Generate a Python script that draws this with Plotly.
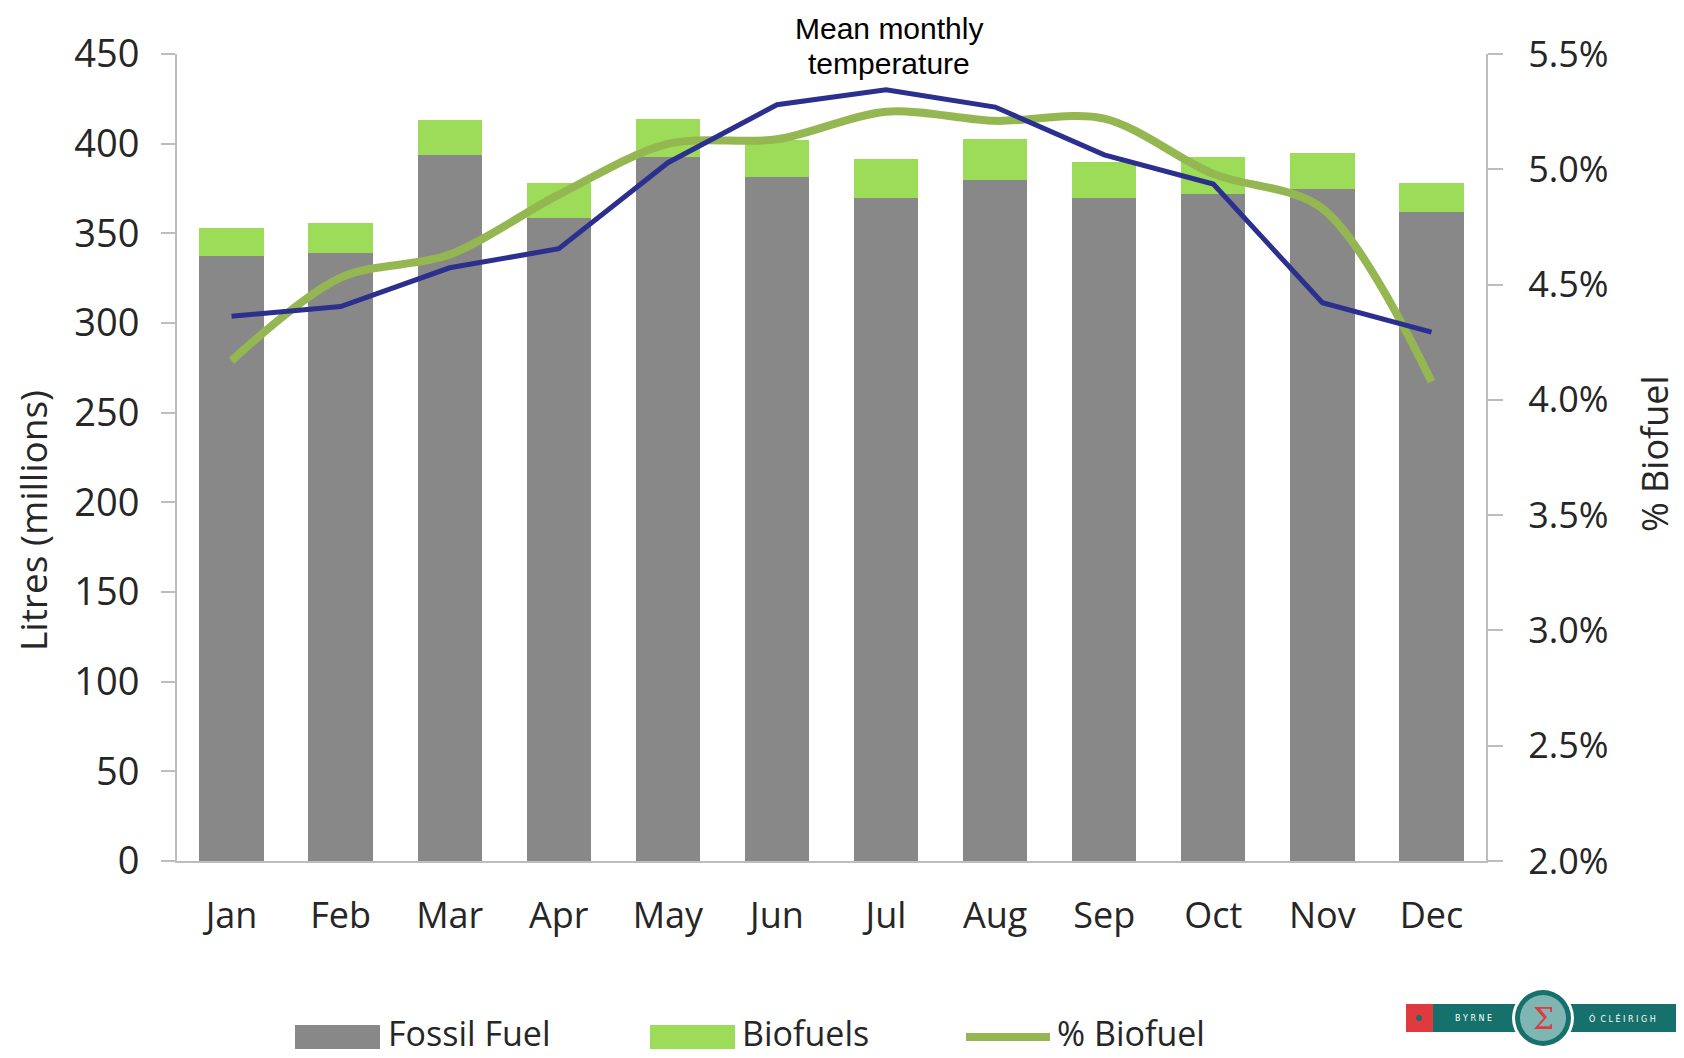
import plotly.graph_objects as go

months = ["Jan", "Feb", "Mar", "Apr", "May", "Jun", "Jul", "Aug", "Sep", "Oct", "Nov", "Dec"]
fossil_fuel = [337.6, 339.0, 393.5, 358.3, 392.5, 381.4, 369.6, 379.5, 369.6, 372.2, 374.9, 361.9]
biofuels = [15.2, 17.0, 19.8, 19.7, 21.0, 20.8, 21.6, 22.9, 20.3, 20.4, 20.0, 16.0]
pct_biofuel = [4.17, 4.53, 4.63, 4.89, 5.11, 5.13, 5.25, 5.21, 5.22, 4.98, 4.83, 4.08]
# mean monthly temperature line, read on the litres scale (no own axis shown)
temperature_pos = [303.8, 309.2, 330.8, 341.4, 389.4, 421.7, 430.1, 420.4, 393.8, 377.5, 311.3, 294.9]

left_ticks = [0, 50, 100, 150, 200, 250, 300, 350, 400, 450]
right_ticks = [2.0, 2.5, 3.0, 3.5, 4.0, 4.5, 5.0, 5.5]

OFF = 8  # page body margin
W, H = 1684 - OFF, 1058 - OFF
# plot area in screen pixels
SX0, SX1, SY0, SY1 = 177, 1486, 54, 861
L, T = SX0 - OFF, SY0 - OFF
R, B = W - (SX1 - OFF), H - (SY1 - OFF)
PW, PH = W - L - R, H - T - B


def px(x):
    return (x - OFF - L) / PW


def py(y):
    return (H - B - (y - OFF)) / PH


GREY = "#888888"
LGREEN = "#9ddc58"
LINEGREEN = "#95b752"
BLUE = "#2b2f8e"
TXT = "#262626"
AXC = "#bdbdbd"
TICKFONT = dict(family="Open Sans", size=36, color=TXT)
LTICKFONT = dict(family="Open Sans", size=38, color=TXT)

fig = go.Figure()
fig.add_trace(go.Bar(x=months, y=fossil_fuel, name="Fossil Fuel", marker=dict(color=GREY, line_width=0)))
fig.add_trace(go.Bar(x=months, y=biofuels, name="Biofuels", marker=dict(color=LGREEN, line_width=0)))
fig.add_trace(go.Scatter(x=months, y=temperature_pos, name="Mean monthly temperature", yaxis="y3",
                         mode="lines", line=dict(color=BLUE, width=5)))
fig.add_trace(go.Scatter(x=months, y=pct_biofuel, name="% Biofuel", yaxis="y2", mode="lines",
                         line=dict(color=LINEGREEN, width=8, shape="spline", smoothing=0.9)))

fig.update_layout(
    width=W, height=H,
    margin=dict(l=L, r=R, t=T, b=B),
    paper_bgcolor="white", plot_bgcolor="white",
    barmode="stack", bargap=0.41,
    showlegend=False,
    xaxis=dict(showline=True, linecolor=AXC, linewidth=2, ticks="", tickfont=TICKFONT,
               ticklabelstandoff=22, showgrid=False, zeroline=False),
    yaxis=dict(range=[0, 450], tickvals=left_ticks, showline=True, linecolor=AXC, linewidth=2,
               ticks="outside", ticklen=14, tickwidth=2, tickcolor=AXC, tickfont=LTICKFONT,
               ticklabelstandoff=14, showgrid=False, zeroline=False),
    yaxis2=dict(range=[2.0, 5.5], tickvals=right_ticks, ticktext=[f"{v:.1f}%" for v in right_ticks],
                overlaying="y", side="right", showline=True, linecolor=AXC, linewidth=2,
                ticks="outside", ticklen=15, tickwidth=2, tickcolor=AXC, tickfont=TICKFONT,
                ticklabelstandoff=18, showgrid=False, zeroline=False),
    yaxis3=dict(range=[0, 450], overlaying="y", visible=False),
)

ann = []
for line_txt, yc in [("Mean monthly", 28), ("temperature", 63)]:
    ann.append(dict(text=line_txt, x=px(889), y=py(yc), xref="paper", yref="paper",
                    showarrow=False, xanchor="center", yanchor="middle",
                    font=dict(family="Liberation Sans, Arial", size=30, color="black")))
ann.append(dict(text="Litres (millions)", x=px(32), y=py(521), xref="paper", yref="paper", textangle=-90,
                showarrow=False, xanchor="center", yanchor="middle",
                font=dict(family="Open Sans", size=37, color=TXT)))
ann.append(dict(text="% Biofuel", x=px(1654), y=py(454), xref="paper", yref="paper", textangle=-90,
                showarrow=False, xanchor="center", yanchor="middle",
                font=dict(family="Open Sans", size=36, color=TXT)))

shapes = []
# custom legend
LEGY = 1033
shapes.append(dict(type="rect", xref="paper", yref="paper", x0=px(295), x1=px(380), y0=py(1025), y1=py(1049),
                   fillcolor=GREY, line_width=0))
shapes.append(dict(type="rect", xref="paper", yref="paper", x0=px(650), x1=px(735), y0=py(1025), y1=py(1049),
                   fillcolor=LGREEN, line_width=0))
shapes.append(dict(type="line", xref="paper", yref="paper", x0=px(966), x1=px(1050), y0=py(1037), y1=py(1037),
                   line=dict(color=LINEGREEN, width=8)))
for label, xl in [("Fossil Fuel", 386), ("Biofuels", 740), ("% Biofuel", 1055)]:
    ann.append(dict(text=label, x=px(xl), y=py(LEGY), xref="paper", yref="paper", showarrow=False,
                    xanchor="left", yanchor="middle", font=dict(family="Open Sans", size=34, color=TXT)))

# logo
TEAL = "#16716c"
shapes.append(dict(type="rect", xref="paper", yref="paper", x0=px(1406), x1=px(1433), y0=py(1004), y1=py(1032),
                   fillcolor="#e0393e", line_width=0))
shapes.append(dict(type="rect", xref="paper", yref="paper", x0=px(1433), x1=px(1677), y0=py(1004), y1=py(1032),
                   fillcolor=TEAL, line_width=0))
shapes.append(dict(type="circle", xref="paper", yref="paper", x0=px(1419 - 3), x1=px(1419 + 3),
                   y0=py(1018 + 3), y1=py(1018 - 3), fillcolor=TEAL, line_width=0))
shapes.append(dict(type="circle", xref="paper", yref="paper", x0=px(1543 - 31), x1=px(1543 + 31),
                   y0=py(1018 + 31), y1=py(1018 - 31), fillcolor="white", line_width=0))
shapes.append(dict(type="circle", xref="paper", yref="paper", x0=px(1543 - 28), x1=px(1543 + 28),
                   y0=py(1018 + 28), y1=py(1018 - 28), fillcolor=TEAL, line_width=0))
shapes.append(dict(type="circle", xref="paper", yref="paper", x0=px(1543 - 23), x1=px(1543 + 23),
                   y0=py(1018 + 23), y1=py(1018 - 23), fillcolor="#7fb6b3", line_width=0))
ann.append(dict(text="Σ", x=px(1543), y=py(1018), xref="paper", yref="paper", showarrow=False,
                xanchor="center", yanchor="middle", font=dict(family="DejaVu Serif", size=30, color="#e0393e")))
ann.append(dict(text="B Y R N E", x=px(1473), y=py(1018), xref="paper", yref="paper", showarrow=False,
                xanchor="center", yanchor="middle", font=dict(family="DejaVu Sans", size=8, color="white")))
ann.append(dict(text="Ó  C L É I R I G H", x=px(1622), y=py(1018), xref="paper", yref="paper", showarrow=False,
                xanchor="center", yanchor="middle", font=dict(family="DejaVu Sans", size=8, color="white")))

fig.update_layout(annotations=ann, shapes=shapes)
fig.write_html("out.html")
